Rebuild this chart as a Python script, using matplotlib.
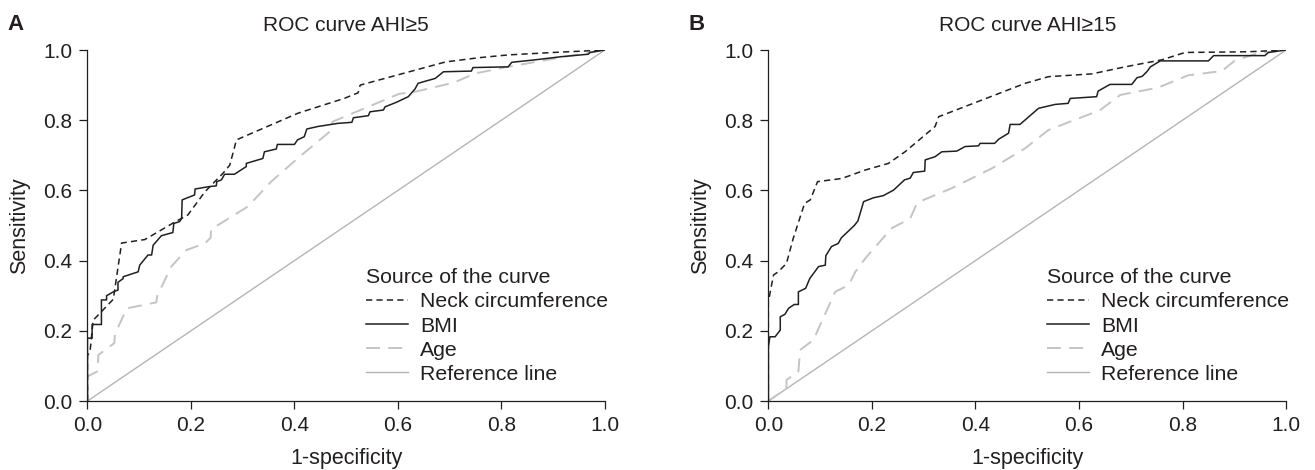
import matplotlib
matplotlib.use("Agg")
import matplotlib.pyplot as plt

plt.rcParams['font.family'] = ['Liberation Sans', 'DejaVu Sans']
plt.rcParams['lines.scale_dashes'] = False

# ---------------- data (fpr, tpr) ----------------
titles = ["ROC curve AHI\u22655", "ROC curve AHI\u226515"]
panel_labels = ["A", "B"]
series_names = ["Neck circumference", "BMI", "Age", "Reference line"]

a_neck = [(0, 0), (0, 0.13), (0.005, 0.14), (0.011, 0.23), (0.05, 0.29), (0.066, 0.45),
          (0.111, 0.46), (0.169, 0.51), (0.194, 0.53), (0.227, 0.596), (0.262, 0.649),
          (0.275, 0.672), (0.288, 0.744), (0.407, 0.82), (0.496, 0.862), (0.523, 0.878),
          (0.527, 0.9), (0.692, 0.966), (0.756, 0.978), (0.813, 0.986), (0.90, 0.993), (1, 1)]

a_bmi = [(0, 0), (0, 0.179), (0.009, 0.179), (0.009, 0.218), (0.027, 0.218), (0.027, 0.288),
         (0.037, 0.288), (0.037, 0.300), (0.050, 0.311), (0.059, 0.316), (0.059, 0.338),
         (0.069, 0.349), (0.069, 0.354), (0.098, 0.368), (0.101, 0.387), (0.117, 0.416),
         (0.124, 0.416), (0.127, 0.444), (0.143, 0.471), (0.165, 0.480), (0.167, 0.506),
         (0.178, 0.511), (0.182, 0.520), (0.183, 0.573), (0.207, 0.587), (0.208, 0.604),
         (0.236, 0.611), (0.249, 0.613), (0.250, 0.625), (0.259, 0.630), (0.265, 0.646),
         (0.284, 0.646), (0.307, 0.668), (0.307, 0.677), (0.339, 0.691), (0.342, 0.710),
         (0.365, 0.718), (0.367, 0.731), (0.400, 0.731), (0.406, 0.744), (0.419, 0.753),
         (0.424, 0.775), (0.445, 0.782), (0.484, 0.791), (0.511, 0.794), (0.514, 0.807),
         (0.543, 0.813), (0.546, 0.824), (0.572, 0.829), (0.575, 0.838), (0.597, 0.851),
         (0.620, 0.867), (0.633, 0.889), (0.639, 0.905), (0.655, 0.912), (0.672, 0.919),
         (0.688, 0.938), (0.742, 0.940), (0.745, 0.950), (0.813, 0.952), (0.820, 0.965),
         (0.865, 0.972), (0.916, 0.981), (0.968, 0.988), (0.971, 0.993), (1, 1)]

a_age = [(0, 0), (0, 0.07), (0.02, 0.085), (0.021, 0.131), (0.052, 0.165), (0.053, 0.19),
         (0.076, 0.264), (0.133, 0.281), (0.135, 0.30), (0.162, 0.383), (0.191, 0.43),
         (0.227, 0.449), (0.238, 0.465), (0.239, 0.49), (0.252, 0.501), (0.31, 0.554),
         (0.355, 0.625), (0.406, 0.691), (0.468, 0.767), (0.474, 0.796), (0.497, 0.81),
         (0.602, 0.875), (0.633, 0.881), (0.708, 0.907), (0.749, 0.933), (0.805, 0.95),
         (0.90, 0.975), (1, 1)]

b_neck = [(0, 0), (0, 0.283), (0.01, 0.359), (0.019, 0.368), (0.035, 0.392), (0.048, 0.463),
          (0.07, 0.563), (0.081, 0.573), (0.095, 0.625), (0.142, 0.634), (0.187, 0.658),
          (0.232, 0.677), (0.264, 0.71), (0.322, 0.782), (0.329, 0.81), (0.496, 0.905),
          (0.541, 0.924), (0.625, 0.932), (0.689, 0.952), (0.760, 0.972), (0.805, 0.993),
          (0.927, 0.995), (1, 1)]

b_bmi = [(0, 0), (0, 0.155), (0.003, 0.183), (0.013, 0.183), (0.023, 0.202), (0.023, 0.24),
         (0.032, 0.247), (0.039, 0.264), (0.05, 0.275), (0.058, 0.275), (0.058, 0.311),
         (0.072, 0.321), (0.08, 0.349), (0.097, 0.383), (0.11, 0.387), (0.111, 0.414),
         (0.122, 0.44), (0.135, 0.449), (0.141, 0.465), (0.166, 0.50), (0.173, 0.513),
         (0.184, 0.568), (0.203, 0.579), (0.222, 0.585), (0.242, 0.601), (0.263, 0.63),
         (0.274, 0.635), (0.28, 0.651), (0.302, 0.655), (0.303, 0.687), (0.322, 0.696),
         (0.335, 0.71), (0.364, 0.712), (0.38, 0.725), (0.406, 0.727), (0.409, 0.734),
         (0.437, 0.734), (0.445, 0.746), (0.464, 0.763), (0.467, 0.788), (0.486, 0.788),
         (0.522, 0.834), (0.554, 0.845), (0.579, 0.848), (0.583, 0.862), (0.634, 0.867),
         (0.637, 0.883), (0.66, 0.902), (0.702, 0.902), (0.712, 0.921), (0.722, 0.925),
         (0.731, 0.938), (0.738, 0.952), (0.757, 0.969), (0.85, 0.969), (0.86, 0.984),
         (0.959, 0.984), (0.966, 0.993), (1, 1)]

b_age = [(0, 0), (0.035, 0.036), (0.035, 0.06), (0.058, 0.084), (0.06, 0.12), (0.061, 0.145),
         (0.087, 0.174), (0.106, 0.236), (0.129, 0.311), (0.155, 0.33), (0.168, 0.368),
         (0.187, 0.406), (0.238, 0.492), (0.274, 0.52), (0.287, 0.563), (0.303, 0.575),
         (0.354, 0.606), (0.432, 0.663), (0.496, 0.72), (0.541, 0.772), (0.59, 0.80),
         (0.64, 0.828), (0.68, 0.872), (0.753, 0.893), (0.811, 0.928), (0.876, 0.94),
         (0.901, 0.97), (0.946, 0.991), (1, 1)]

reference = [(0, 0), (1, 1)]

ticks = [0.0, 0.2, 0.4, 0.6, 0.8, 1.0]
tick_labels = ["0.0", "0.2", "0.4", "0.6", "0.8", "1.0"]

panels = [(a_neck, a_bmi, a_age), (b_neck, b_bmi, b_age)]

# ---------------- styling ----------------
INK = "#231f20"
AGE_C = "#c4c4c4"
REF_C = "#b5b5b5"
FS_TICK = 15
FS_LAB = 15.5
FS_TITLE = 15
FS_LEG = 15.3

fig = plt.figure(figsize=(13.15, 4.70), dpi=100)
axes_pos = [[0.0665, 0.1468, 0.3935, 0.7468], [0.5843, 0.1468, 0.3937, 0.7468]]
panel_label_x = [15.5 / 1315, 697 / 1315]

for i, (neck, bmi, age) in enumerate(panels):
    ax = fig.add_axes(axes_pos[i])
    rx, ry = zip(*reference)
    l_ref, = ax.plot(rx, ry, color=REF_C, lw=1.0, zorder=1)
    x, y = zip(*age)
    l_age, = ax.plot(x, y, color=AGE_C, lw=1.4, dashes=(10, 6), zorder=2)
    x, y = zip(*bmi)
    l_bmi, = ax.plot(x, y, color=INK, lw=1.1, zorder=3)
    x, y = zip(*neck)
    l_neck, = ax.plot(x, y, color=INK, lw=1.1, dashes=(4.5, 3), zorder=4)

    ax.set_xlim(0, 1)
    ax.set_ylim(0, 1)
    ax.set_xticks(ticks)
    ax.set_xticklabels(tick_labels)
    ax.set_yticks(ticks)
    ax.set_yticklabels(tick_labels)
    for s in ["top", "right"]:
        ax.spines[s].set_visible(False)
    for s in ["left", "bottom"]:
        ax.spines[s].set_color(INK)
        ax.spines[s].set_linewidth(0.9)
    ax.tick_params(direction="out", length=6, width=0.9, color=INK,
                   labelsize=FS_TICK, labelcolor=INK, pad=5)
    ax.set_xlabel("1-specificity", fontsize=FS_LAB, color=INK, labelpad=9)
    ax.set_ylabel("Sensitivity", fontsize=FS_LAB, color=INK, labelpad=9)
    ax.set_title(titles[i], fontsize=FS_TITLE, color=INK, pad=14)

    leg = ax.legend([l_neck, l_bmi, l_age, l_ref], series_names,
                    title="Source of the curve", loc="upper left",
                    bbox_to_anchor=(0.538, 0.378), frameon=False,
                    fontsize=FS_LEG, title_fontsize=FS_LEG, alignment="left",
                    handlelength=2.0, handletextpad=0.55, labelspacing=0.24,
                    borderpad=0, borderaxespad=0)
    for t in leg.get_texts():
        t.set_color(INK)
    leg.get_title().set_color(INK)

    fig.text(panel_label_x[i], 1 - 24.5 / 470, panel_labels[i], fontsize=16,
             fontweight="bold", color=INK, ha="center", va="center")

fig.savefig("out.png", dpi=100)
